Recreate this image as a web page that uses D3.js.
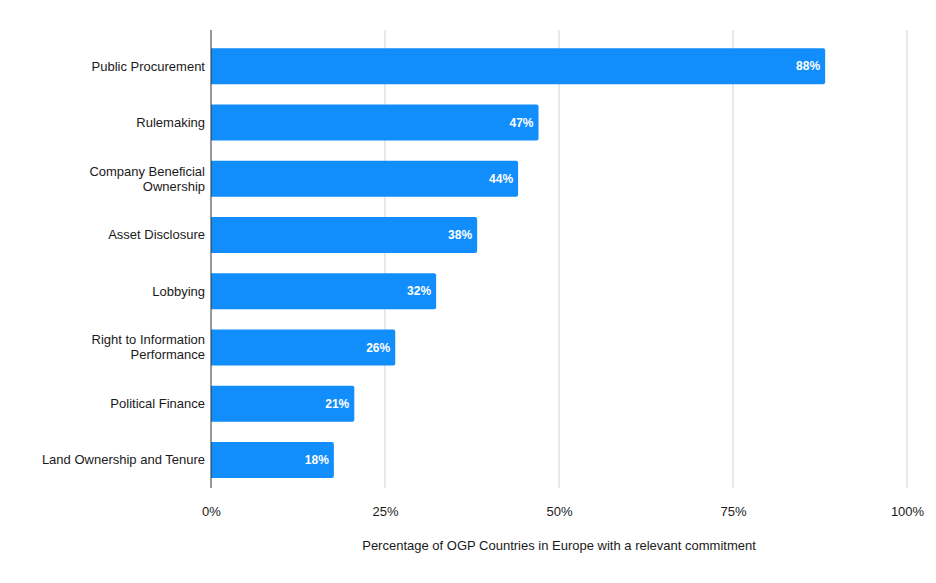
<!DOCTYPE html>
<html>
<head>
<meta charset="utf-8">
<script src="https://cdn.jsdelivr.net/npm/d3@7"></script>
<style>
  html, body { margin: 0; padding: 0; background: #fff; }
  svg { display: block; font-family: "Liberation Sans", Arial, sans-serif; }
</style>
</head>
<body>
<svg id="chart" width="936" height="583"></svg>
<script>
const categories = [
  ["Public Procurement"],
  ["Rulemaking"],
  ["Company Beneficial", "Ownership"],
  ["Asset Disclosure"],
  ["Lobbying"],
  ["Right to Information", "Performance"],
  ["Political Finance"],
  ["Land Ownership and Tenure"]
];
const values = [88.24, 47.06, 44.12, 38.24, 32.35, 26.47, 20.59, 17.65];
const tickValues = [0, 25, 50, 75, 100];
const axisTitle = "Percentage of OGP Countries in Europe with a relevant commitment";

(function () {
const svg = d3.select("#chart");
const mLeft = 211, mRight = 907, mTop = 38, mBottom = 488;
const fs = 13;

const x = d3.scaleLinear().domain([0, 100]).range([mLeft, mRight]);
const y = d3.scaleBand().domain(d3.range(categories.length)).range([mTop, mBottom]).paddingInner(0.36).paddingOuter(0.18);

// gridlines
svg.append("g").selectAll("line").data(tickValues.filter(d => d > 0)).join("line")
  .attr("x1", d => x(d)).attr("x2", d => x(d))
  .attr("y1", 30).attr("y2", mBottom)
  .attr("stroke", "#d3d3d3").attr("stroke-width", 1);

// bars
const barColor = "#118dfc";
const g = svg.append("g");
values.forEach((v, i) => {
  const x0 = x(0), x1 = x(v), y0 = y(i), h = y.bandwidth(), r = 2;
  g.append("path")
    .attr("d", `M${x0},${y0}H${x1 - r}Q${x1},${y0} ${x1},${y0 + r}V${y0 + h - r}Q${x1},${y0 + h} ${x1 - r},${y0 + h}H${x0}Z`)
    .attr("fill", barColor);
  g.append("text")
    .attr("x", x1 - 5).attr("y", y0 + h / 2).attr("dy", "0.35em")
    .attr("text-anchor", "end").attr("fill", "#fff")
    .attr("font-size", 12).attr("font-weight", "bold")
    .text(Math.round(v) + "%");
});

// zero axis line
svg.append("line").attr("x1", x(0)).attr("x2", x(0)).attr("y1", 30).attr("y2", mBottom)
  .attr("stroke", "#333").attr("stroke-width", 1);

// category labels
const lab = svg.append("g");
categories.forEach((lines, i) => {
  const cy = y(i) + y.bandwidth() / 2;
  const lh = 15;
  const t = lab.append("text").attr("text-anchor", "end").attr("font-size", fs).attr("fill", "#1a1a1a");
  lines.forEach((ln, j) => {
    t.append("tspan").attr("x", 205)
      .attr("y", cy + (j - (lines.length - 1) / 2) * lh)
      .attr("dy", "0.35em").text(ln);
  });
});

// x axis ticks
const xAxis = d3.axisBottom(x).tickValues(tickValues).tickFormat(d => d + "%").tickSize(0).tickPadding(0);
const ax = svg.append("g").attr("transform", `translate(0, 507)`).call(xAxis);
ax.select(".domain").remove();
ax.selectAll("text").attr("font-size", fs).attr("fill", "#1a1a1a").attr("font-family", "Liberation Sans, Arial, sans-serif");

// axis title
svg.append("text").attr("x", (mLeft + mRight) / 2).attr("y", 550)
  .attr("text-anchor", "middle").attr("font-size", fs).attr("fill", "#1a1a1a")
  .text(axisTitle);
})();
</script>
</body>
</html>
